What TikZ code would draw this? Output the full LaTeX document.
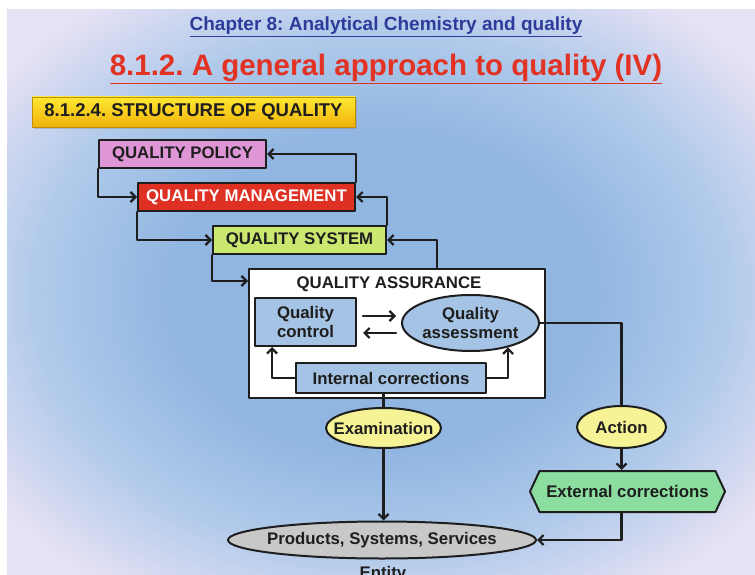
\documentclass[tikz,border=0pt]{standalone}
\usepackage{fontspec}
\setmainfont{Liberation Sans}
\frenchspacing
\usetikzlibrary{arrows.meta,positioning,shapes.geometric,shapes.symbols,shadows,calc}
\definecolor{qInk}{RGB}{30,30,30}
\definecolor{qChapter}{RGB}{45,60,155}
\definecolor{qTitle}{RGB}{225,50,35}
\definecolor{qGoldTop}{RGB}{255,232,50}
\definecolor{qGoldBot}{RGB}{240,178,10}
\definecolor{qPolicy}{RGB}{222,150,215}
\definecolor{qManage}{RGB}{222,48,35}
\definecolor{qSystem}{RGB}{202,232,112}
\definecolor{qBlue}{RGB}{165,195,228}
\definecolor{qYellow}{RGB}{246,242,150}
\definecolor{qGreen}{RGB}{140,222,160}
\definecolor{qGrey}{RGB}{200,200,200}
\definecolor{bgCore}{RGB}{145,182,225}
\definecolor{bgMid}{RGB}{176,202,234}
\definecolor{bgEdge}{RGB}{232,226,245}
\pgfdeclareradialshading{slideglow}{\pgfpoint{0bp}{0bp}}{color(0bp)=(bgCore); color(14bp)=(bgCore); color(23bp)=(bgMid); color(32bp)=(bgEdge); color(50bp)=(bgEdge)}

\begin{document}
\begin{tikzpicture}[x=1pt, y=-1pt, line cap=round, line join=round,
    txt/.style={font=\fontsize{16.8}{19}\selectfont\bfseries, text=qInk},
    box/.style={txt, draw=qInk, line width=2pt, inner sep=0pt},
    oval/.style={box, ellipse, inner xsep=-10pt},
    link/.style={draw=qInk, line width=2.2pt},
    arr/.style={link, -{Straight Barb[length=5pt,width=10pt]}}]
    \useasboundingbox (0,0) rectangle (755,575);
    \fill[white] (0,0) rectangle (755,575);
    \shade[shading=slideglow] (7,10) rectangle (755,575);

    % headings
    \node[anchor=base, text=qChapter, font=\fontsize{19}{21}\selectfont\bfseries] (chap) at (386,30.5) {\underline{Chapter 8: Analytical Chemistry and quality}};
    \node[anchor=base, text=qTitle, font=\fontsize{29.5}{32}\selectfont\bfseries] (ttl) at (386,76) {\underline{8.1.2. A general approach to quality (IV)}};
    \node[txt, font=\fontsize{18.5}{20}\selectfont\bfseries, top color=qGoldTop, bottom color=qGoldBot, draw=qGoldBot!80!black, line width=0.6pt,
          minimum width=323pt, minimum height=30pt, drop shadow={shadow xshift=2pt, shadow yshift=-2pt, opacity=0.35}] (hdr) at (193.5,112) {8.1.2.4. STRUCTURE OF QUALITY};

    % staircase
    \node[box, fill=qPolicy, minimum width=167pt, minimum height=28pt] (qp) at (182.5,154) {QUALITY POLICY};
    \node[box, fill=qManage, text=white, minimum width=217pt, minimum height=28pt] (qm) at (246.5,197) {QUALITY MANAGEMENT};
    \node[box, fill=qSystem, minimum width=173pt, minimum height=28pt] (qs) at (299.5,240) {QUALITY SYSTEM};
    \node[box, fill=white, minimum width=296pt, minimum height=129pt] (qa) at (397,333.5) {};
    \node[txt, anchor=base] (qatitle) at (389,288) {QUALITY ASSURANCE};

    % inside assurance
    \node[box, fill=qBlue, minimum width=101pt, minimum height=48pt, align=center] (qc) at (305.5,322) {Quality\\control};
    \node[oval, fill=qBlue, minimum width=137pt, minimum height=56pt, align=center] (qas) at (470.5,323) {Quality\\assessment};
    \node[box, fill=qBlue, minimum width=190pt, minimum height=30pt] (ic) at (391,378) {Internal corrections};

    % lower part
    \node[oval, fill=qYellow, minimum width=115pt, minimum height=40pt] (exam) at (383.5,428) {Examination};
    \node[oval, fill=qYellow, minimum width=89pt, minimum height=42pt] (act) at (621.5,427) {Action};
    \node[box, signal, signal to=west and east, signal pointer angle=130, fill=qGreen, minimum width=195pt, minimum height=41pt] (ext) at (627.5,491.5) {External corrections};
    \node[oval, fill=qGrey, minimum width=308pt, minimum height=37pt] (pss) at (382,540) {Products, Systems, Services};
    \node[txt, anchor=base] (entity) at (383,578) {Entity};

    % connectors
    \draw[arr] (qp.south west) |- (qm.west);
    \draw[arr] (qm.north east) |- (qp.east);
    \draw[arr] (qm.south west) |- (qs.west);
    \draw[arr] (qs.north east) |- (qm.east);
    \draw[arr] (qs.south west) |- ([yshift=-13pt]qa.north west);
    \draw[arr] ([xshift=40pt]qa.north) |- (qs.east);
    \draw[arr, shorten <=6pt, shorten >=5pt] ([yshift=6pt]qc.east) -- ([yshift=6pt]qc.east -| qas.west);
    \draw[arr, shorten <=5pt, shorten >=6pt] ([yshift=-11pt]qc.east -| qas.west) -- ([yshift=-11pt]qc.east);
    \draw[arr] (ic.west) -| ([xshift=18pt]qc.south west);
    \draw[arr] (ic.east) -| (qas.-33);
    \draw[link] (ic.south -| exam.north) -- (exam.north);
    \draw[arr] (exam.south) -- (exam.south |- pss.north);
    \draw[link] (qas.east) -| (act.north);
    \draw[arr] (act.south) -- (act.south |- ext.north);
    \draw[arr] (ext.south -| act.south) |- (pss.east);
\end{tikzpicture}
\end{document}
